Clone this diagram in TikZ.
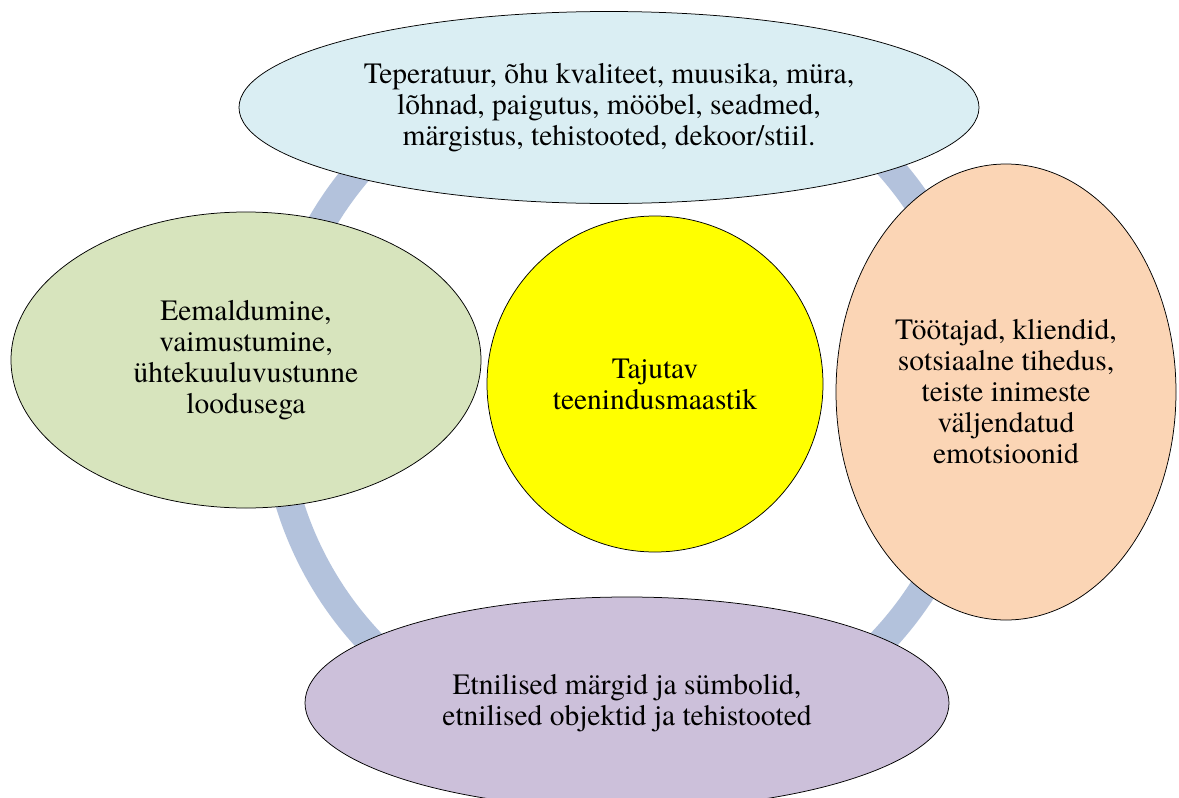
\documentclass[tikz,border=0pt]{standalone}
\usepackage{fontspec}
\setmainfont{texgyretermes-regular.otf}
\usetikzlibrary{shapes.geometric}
\definecolor{ringc}{RGB}{179,194,220}
\definecolor{topc}{RGB}{218,238,243}
\definecolor{leftc}{RGB}{215,228,189}
\definecolor{rightc}{RGB}{251,213,181}
\definecolor{botc}{RGB}{204,192,218}
\definecolor{midc}{RGB}{255,255,0}
\begin{document}
\begin{tikzpicture}[x=1pt,y=-1pt,
  bubble/.style={ellipse, draw=black, line width=0.75pt, inner sep=0pt, align=center,
    font=\fontsize{29.5}{31}\selectfont},
  ringstyle/.style={circle, draw=ringc, line width=28pt, inner sep=0pt, minimum size=704pt}]
\useasboundingbox (0,0) rectangle (1179,798);
\clip (0,0) rectangle (1179,798);
\fill[white] (0,0) rectangle (1179,798);
\node[ringstyle] (ring) at (626,400) {};
\node[bubble, fill=topc, minimum width=740pt, minimum height=192pt] (top) at (609,107.5)
  {Teperatuur, õhu kvaliteet, muusika, müra,\\lõhnad, paigutus, mööbel, seadmed,\\märgistus, tehistooted, dekoor/stiil.};
\node[bubble, fill=leftc, minimum width=470pt, minimum height=296pt] (left) at (246,360)
  {Eemaldumine,\\vaimustumine,\\ühtekuuluvustunne\\loodusega};
\node[bubble, circle, fill=midc, minimum size=336pt] (mid) at (655,384)
  {Tajutav\\teenindusmaastik};
\node[bubble, fill=rightc, minimum width=340pt, minimum height=456pt] (right) at (1006,392)
  {Töötajad, kliendid,\\sotsiaalne tihedus,\\teiste inimeste\\väljendatud\\emotsioonid};
\node[bubble, fill=botc, minimum width=644pt, minimum height=212pt] (bottom) at (627,703)
  {Etnilised märgid ja sümbolid,\\etnilised objektid ja tehistooted};
\end{tikzpicture}
\end{document}
